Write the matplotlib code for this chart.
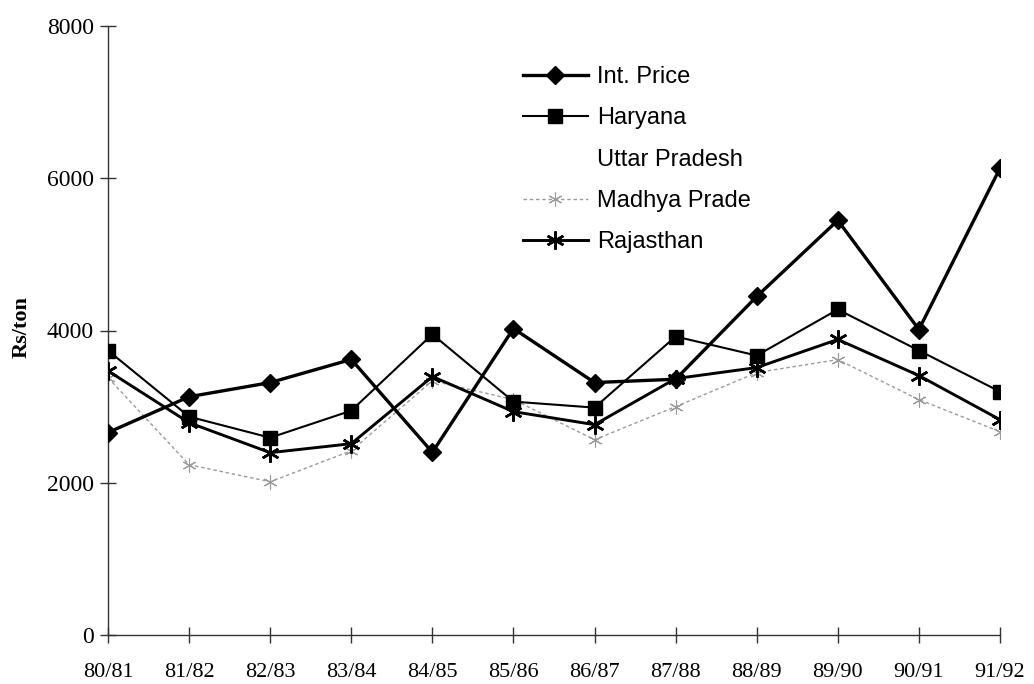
import numpy as np
import matplotlib
matplotlib.use("Agg")
import matplotlib.pyplot as plt

# Seasons on the x axis
seasons = ["80/81", "81/82", "82/83", "83/84", "84/85", "85/86",
           "86/87", "87/88", "88/89", "89/90", "90/91", "91/92"]

# Prices in Rs/ton
int_price = [2660, 3130, 3316, 3620, 2400, 4026, 3316, 3360, 4447, 5447, 4013, 6132]
haryana = [3737, 2868, 2592, 2947, 3950, 3066, 2987, 3921, 3671, 4276, 3737, 3197]
uttar_pradesh = [np.nan] * 12
madhya_pradesh = [3380, 2237, 2013, 2420, 3340, 3092, 2565, 3000, 3447, 3618, 3092, 2671]
rajasthan = [3470, 2789, 2395, 2513, 3395, 2934, 2763, 3368, 3513, 3882, 3408, 2829]

y_ticks = [0, 2000, 4000, 6000, 8000]

W, H = 1034, 684
fig = plt.figure(figsize=(W / 100, H / 100), dpi=100)
ax = fig.add_axes([108 / W, (H - 635) / H, (1000 - 108) / W, (635 - 26) / H])

x = np.arange(len(seasons))

ax.plot(x, madhya_pradesh, color="#9a9a9a", lw=1.0, ls=(0, (2.5, 2)),
        marker=(6, 2, 0), ms=10, mew=0.8, mec="#9a9a9a", zorder=2,
        label="Madhya Prade")
ax.plot(x, uttar_pradesh, color="white", lw=1.0, zorder=1, label="Uttar Pradesh")
ax.plot(x, haryana, color="black", lw=1.5, marker="s", ms=9.5, zorder=3,
        label="Haryana")
ax.plot(x, rajasthan, color="black", lw=2.1, marker=(6, 2, 0), ms=13, mew=1.8,
        zorder=3, label="Rajasthan")
ax.plot(x, int_price, color="black", lw=2.4, marker="D", ms=9.5, zorder=4,
        label="Int. Price")

ax.set_xlim(0, len(seasons) - 1)
ax.set_ylim(0, 8000)
ax.set_xticks(x)
ax.set_xticklabels(seasons)
ax.set_yticks(y_ticks)
ax.set_yticklabels([str(v) for v in y_ticks])

for side in ("top", "right"):
    ax.spines[side].set_visible(False)
for side in ("left", "bottom"):
    ax.spines[side].set_color("#333333")
    ax.spines[side].set_linewidth(1.0)

ax.tick_params(axis="both", direction="inout", length=12, width=1.0,
               color="#333333")
ax.tick_params(axis="y", pad=4)
ax.tick_params(axis="x", pad=14)
for lbl in ax.get_xticklabels():
    lbl.set_fontfamily("Liberation Serif")
    lbl.set_fontsize(16)
for lbl in ax.get_yticklabels():
    lbl.set_fontfamily("Liberation Serif")
    lbl.set_fontsize(17)

fig.text(22 / W, 1 - 327 / H, "Rs/ton", rotation=90, ha="center", va="center",
         fontfamily="Liberation Serif", fontweight="bold", fontsize=16)

handles, labels = ax.get_legend_handles_labels()
order = ["Int. Price", "Haryana", "Uttar Pradesh", "Madhya Prade", "Rajasthan"]
hmap = dict(zip(labels, handles))
leg = ax.legend([hmap[k] for k in order], order, loc="upper left",
                bbox_to_anchor=(523 / W, 1 - 66 / H), bbox_transform=fig.transFigure,
                frameon=False, handlelength=2.75, handletextpad=0.4,
                labelspacing=0.82, borderpad=0, borderaxespad=0,
                prop={"family": "Liberation Sans", "size": 17})

fig.savefig("out.png", dpi=100, facecolor="white")
